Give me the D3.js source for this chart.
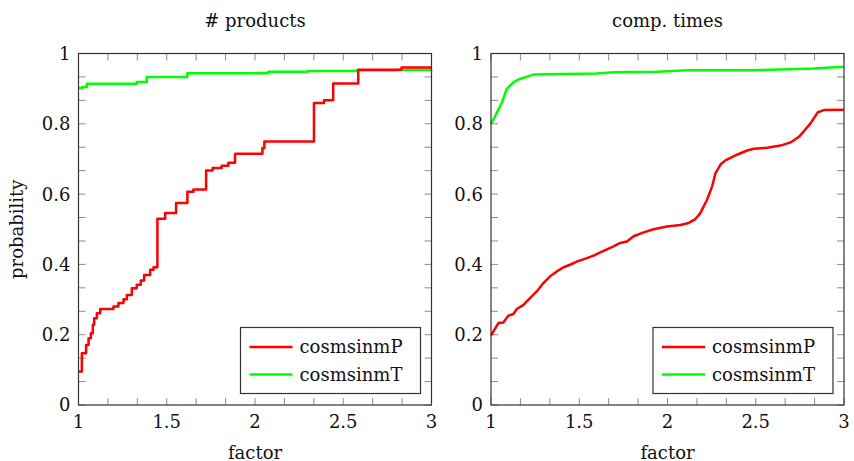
<!DOCTYPE html>
<html>
<head>
<meta charset="utf-8">
<script src="https://cdn.jsdelivr.net/npm/d3@7"></script>
<style>
  body { margin: 0; background: #fff; }
</style>
</head>
<body>
<svg id="chart" width="854" height="461" font-family="'DejaVu Serif', 'Liberation Serif', serif"></svg>
<script>
// --- data ---
const seriesNames = ['cosmsinmP', 'cosmsinmT'];
const seriesColors = ['#ff0000', '#00ff00'];
const panelTitles = ['# products', 'comp. times'];
const xTicks = [1, 1.5, 2, 2.5, 3];
const yTicks = [0, 0.2, 0.4, 0.6, 0.8, 1];

// left panel: step curves
const productsPX = [1.0, 1.019, 1.043, 1.057, 1.070, 1.081, 1.089, 1.104, 1.123, 1.198, 1.226, 1.255, 1.274, 1.302, 1.330, 1.353, 1.372, 1.406, 1.425, 1.447, 1.491, 1.553, 1.617, 1.651, 1.723, 1.760, 1.811, 1.849, 1.887, 2.042, 2.053, 2.334, 2.391, 2.443, 2.585, 2.830, 3.0];
const productsPY = [0.095, 0.147, 0.171, 0.190, 0.204, 0.228, 0.247, 0.261, 0.273, 0.280, 0.290, 0.301, 0.313, 0.332, 0.342, 0.354, 0.370, 0.385, 0.392, 0.530, 0.546, 0.575, 0.607, 0.613, 0.667, 0.674, 0.681, 0.689, 0.715, 0.731, 0.750, 0.859, 0.867, 0.915, 0.954, 0.960, 0.960];
const productsTX = [1.0, 1.02, 1.047, 1.330, 1.387, 1.617, 2.075, 2.3, 2.575, 2.8, 3.0];
const productsTY = [0.902, 0.905, 0.914, 0.919, 0.933, 0.944, 0.948, 0.950, 0.952, 0.953, 0.954];

// right panel: smooth-ish curves
const timesPX = [1.0, 1.042, 1.070, 1.098, 1.127, 1.146, 1.184, 1.221, 1.259, 1.297, 1.335, 1.373, 1.411, 1.448, 1.486, 1.543, 1.581, 1.619, 1.657, 1.694, 1.732, 1.770, 1.808, 1.865, 1.921, 1.997, 2.073, 2.120, 2.158, 2.186, 2.224, 2.253, 2.272, 2.300, 2.328, 2.357, 2.394, 2.451, 2.489, 2.565, 2.640, 2.697, 2.745, 2.773, 2.811, 2.852, 2.886, 3.0];
const timesPY = [0.198, 0.233, 0.235, 0.254, 0.259, 0.273, 0.285, 0.304, 0.323, 0.347, 0.366, 0.380, 0.392, 0.399, 0.408, 0.418, 0.425, 0.434, 0.443, 0.451, 0.461, 0.465, 0.480, 0.491, 0.500, 0.508, 0.512, 0.518, 0.529, 0.546, 0.584, 0.622, 0.660, 0.684, 0.696, 0.703, 0.712, 0.724, 0.729, 0.732, 0.738, 0.747, 0.763, 0.779, 0.802, 0.833, 0.839, 0.840];
const timesTX = [1.0, 1.023, 1.061, 1.089, 1.127, 1.155, 1.240, 1.600, 1.694, 1.940, 2.111, 2.451, 2.830, 3.0];
const timesTY = [0.800, 0.821, 0.859, 0.899, 0.918, 0.926, 0.940, 0.943, 0.947, 0.948, 0.952, 0.952, 0.957, 0.962];

const zip = (xs, ys) => xs.map((x, i) => ({ x: x, y: ys[i] }));

const panels = [
  { title: panelTitles[0], left: 78.5, curve: d3.curveStepAfter, ylabel: 'probability',
    series: [zip(productsPX, productsPY), zip(productsTX, productsTY)] },
  { title: panelTitles[1], left: 491, curve: d3.curveLinear, ylabel: null,
    series: [zip(timesPX, timesPY), zip(timesTX, timesTY)] }
];

const plotW = 353;
const plotTop = 53.5;
const plotBottom = 405;
const fontSize = 18;
const textColor = '#111';

const svg = d3.select('#chart');

panels.forEach(p => {
  const g = svg.append('g').attr('fill', textColor);
  const x = d3.scaleLinear().domain([1, 3]).range([p.left, p.left + plotW]);
  const y = d3.scaleLinear().domain([0, 1]).range([plotBottom, plotTop]);

  // minor + major ticks (2 minor ticks between majors), inward on all sides
  const xAll = d3.range(0, 13).map(i => 1 + i * (0.5 / 3));
  const yAll = d3.range(0, 16).map(i => i * (0.2 / 3));
  const tickLen = 7;
  const ticks = g.append('g').attr('stroke', '#8c8c8c').attr('stroke-width', 1);
  xAll.forEach(v => {
    ticks.append('line').attr('x1', x(v)).attr('x2', x(v)).attr('y1', plotBottom).attr('y2', plotBottom - tickLen);
    ticks.append('line').attr('x1', x(v)).attr('x2', x(v)).attr('y1', plotTop).attr('y2', plotTop + tickLen);
  });
  yAll.forEach(v => {
    ticks.append('line').attr('y1', y(v)).attr('y2', y(v)).attr('x1', p.left).attr('x2', p.left + tickLen);
    ticks.append('line').attr('y1', y(v)).attr('y2', y(v)).attr('x1', p.left + plotW).attr('x2', p.left + plotW - tickLen);
  });

  // tick labels
  g.selectAll('.xl').data(xTicks).enter().append('text')
    .attr('x', d => x(d)).attr('y', 427.5)
    .attr('text-anchor', 'middle').attr('font-size', fontSize)
    .text(d => d);
  g.selectAll('.yl').data(yTicks).enter().append('text')
    .attr('x', p.left - 8).attr('y', d => y(d)).attr('dy', '0.36em')
    .attr('text-anchor', 'end').attr('font-size', fontSize)
    .text(d => d);

  // curves
  const line = d3.line().x(d => x(d.x)).y(d => y(d.y)).curve(p.curve);
  // green first so the red sits on top where they cross
  [1, 0].forEach(i => {
    g.append('path').datum(p.series[i])
      .attr('d', line)
      .attr('fill', 'none')
      .attr('stroke', seriesColors[i])
      .attr('stroke-width', 2.5)
      .attr('stroke-linejoin', 'round');
  });

  // frame
  g.append('rect')
    .attr('x', p.left).attr('y', plotTop)
    .attr('width', plotW).attr('height', plotBottom - plotTop)
    .attr('fill', 'none').attr('stroke', '#333').attr('stroke-width', 1.2);

  // title & axis labels
  g.append('text').attr('x', p.left + plotW / 2).attr('y', 26.5)
    .attr('text-anchor', 'middle').attr('font-size', fontSize).text(p.title);
  g.append('text').attr('x', p.left + plotW / 2).attr('y', 458.5)
    .attr('text-anchor', 'middle').attr('font-size', fontSize).text('factor');
  if (p.ylabel) {
    g.append('text')
      .attr('transform', `translate(23,${(plotTop + plotBottom) / 2}) rotate(-90)`)
      .attr('text-anchor', 'middle').attr('font-size', fontSize).text(p.ylabel);
  }

  // legend
  const lw = 180, lh = 66;
  const lx = p.left + plotW - 11 - lw, ly = plotBottom - 11.5 - lh;
  const leg = g.append('g').attr('transform', `translate(${lx},${ly})`);
  leg.append('rect').attr('width', lw).attr('height', lh)
    .attr('fill', '#fff').attr('stroke', '#333').attr('stroke-width', 1.2);
  seriesNames.forEach((name, i) => {
    const ry = 19.5 + i * 27.5;
    leg.append('line').attr('x1', 9).attr('x2', 52).attr('y1', ry).attr('y2', ry)
      .attr('stroke', seriesColors[i]).attr('stroke-width', 2.5);
    leg.append('text').attr('x', 59).attr('y', ry + 6).attr('font-size', fontSize).text(name);
  });
});
</script>
</body>
</html>
